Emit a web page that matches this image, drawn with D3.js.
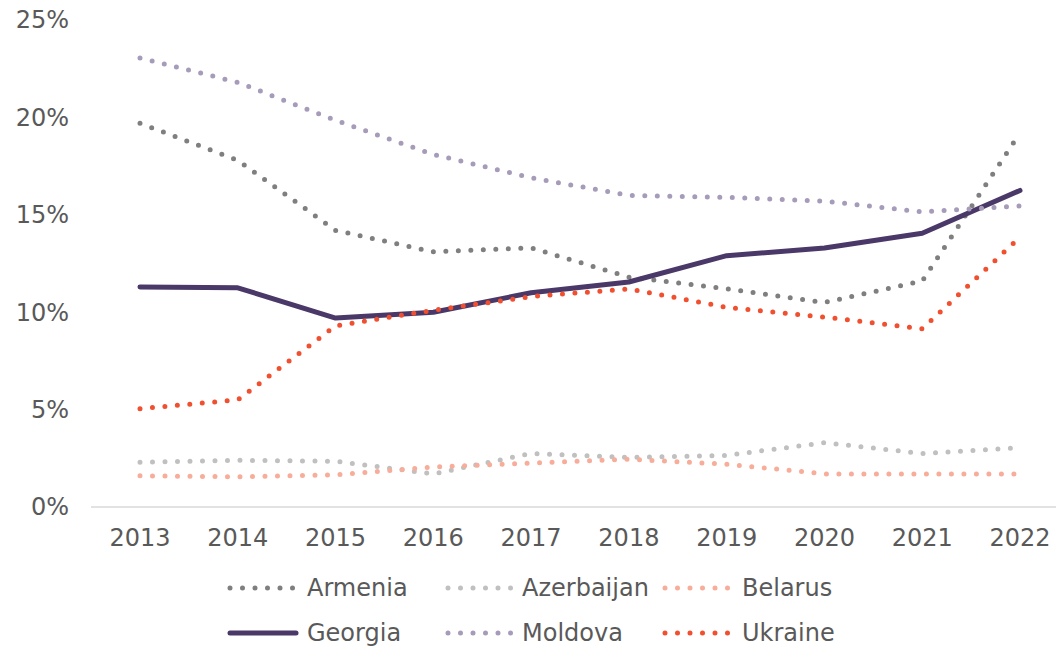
<!DOCTYPE html>
<html lang="en">
<head>
<meta charset="utf-8">
<script src="https://cdn.jsdelivr.net/npm/d3@7"></script>
<style>
  body { margin: 0; background: #fff; }
  text { font-family: "DejaVu Sans", sans-serif; fill: #595959; }
</style>
</head>
<body>
<script>
// data
var years = ["2013","2014","2015","2016","2017","2018","2019","2020","2021","2022"];
var armenia    = [19.7, 17.8, 14.2, 13.1, 13.3, 11.8, 11.2, 10.5, 11.6, 19.2];
var azerbaijan = [2.3, 2.4, 2.35, 1.7, 2.75, 2.55, 2.65, 3.3, 2.75, 3.05];
var belarus    = [1.6, 1.55, 1.65, 2.05, 2.25, 2.45, 2.2, 1.7, 1.7, 1.7];
var georgia    = [11.3, 11.25, 9.7, 10.0, 11.0, 11.55, 12.9, 13.3, 14.05, 16.25];
var moldova    = [23.05, 21.8, 19.85, 18.1, 16.9, 16.0, 15.9, 15.7, 15.15, 15.45];
var ukraine    = [5.05, 5.5, 9.3, 10.1, 10.8, 11.2, 10.25, 9.75, 9.15, 13.85];
var yTicks = [0, 5, 10, 15, 20, 25];

var series = [
  {name: "Armenia", values: armenia, color: "#7f7f7f", dotted: true},
  {name: "Azerbaijan", values: azerbaijan, color: "#c0c0c0", dotted: true},
  {name: "Belarus", values: belarus, color: "#f7ad99", dotted: true},
  {name: "Georgia", values: georgia, color: "#4a3868", dotted: false},
  {name: "Moldova", values: moldova, color: "#a69cba", dotted: true},
  {name: "Ukraine", values: ukraine, color: "#f0502f", dotted: true}
];

var w = 1056, h = 646;
var svg = d3.select("body").append("svg").attr("width", w).attr("height", h);

var x = d3.scalePoint().domain(years).range([140, 1020]);
var y = d3.scaleLinear().domain([0, 25]).range([507, 20]);

// y labels
svg.selectAll(".ylab").data(yTicks).enter().append("text")
  .attr("x", 69).attr("y", function(d) { return y(d); })
  .attr("dy", "0.35em").attr("text-anchor", "end")
  .style("font-size", "24px")
  .text(function(d) { return d + "%"; });

// x axis line
svg.append("line").attr("x1", 91).attr("x2", 1056)
  .attr("y1", y(0)).attr("y2", y(0))
  .style("stroke", "#d9d9d9").style("stroke-width", 1.5);

svg.selectAll(".xlab").data(years).enter().append("text")
  .attr("x", function(d) { return x(d); }).attr("y", 546)
  .attr("text-anchor", "middle").style("font-size", "24px")
  .text(function(d) { return d; });

var line = d3.line()
  .x(function(d, i) { return x(years[i]); })
  .y(function(d) { return y(d); });

function styleLine(sel, s) {
  sel.style("fill", "none").style("stroke", s.color)
    .style("stroke-width", 5).style("stroke-linecap", "round")
    .style("stroke-linejoin", "round");
  if (s.dotted) sel.style("stroke-dasharray", "0 12.5");
}

series.forEach(function(s) {
  svg.append("path").attr("d", line(s.values)).call(styleLine, s);
});

// legend
var legX = [230, 448, 665];
var legT = [307, 522, 742];
var legY = [588, 633];
series.forEach(function(s, i) {
  var lx = legX[i % 3], ly = legY[Math.floor(i / 3)];
  svg.append("path").attr("d", "M" + lx + "," + ly + "H" + (lx + 66)).call(styleLine, s);
  svg.append("text").attr("x", legT[i % 3]).attr("y", ly).attr("dy", "0.35em")
    .style("font-size", "24px").text(s.name);
});
</script>
</body>
</html>
